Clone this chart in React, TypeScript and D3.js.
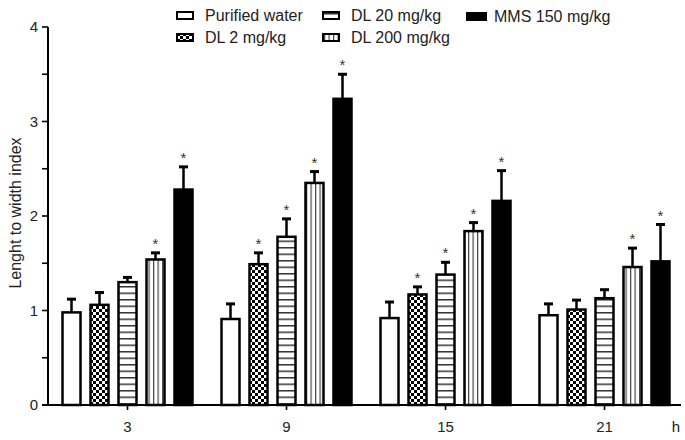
import * as d3 from "d3";

const groups = ["3", "9", "15", "21"];
const series = ["Purified water", "DL 2 mg/kg", "DL 20 mg/kg", "DL 200 mg/kg", "MMS 150 mg/kg"];

const pureWater = [0.98, 0.91, 0.92, 0.95];
const dl2 = [1.06, 1.49, 1.17, 1.01];
const dl20 = [1.3, 1.78, 1.38, 1.13];
const dl200 = [1.54, 2.35, 1.84, 1.46];
const mms = [2.28, 3.24, 2.16, 1.52];

const pureWaterErr = [0.14, 0.16, 0.17, 0.12];
const dl2Err = [0.13, 0.12, 0.08, 0.1];
const dl20Err = [0.05, 0.19, 0.13, 0.09];
const dl200Err = [0.07, 0.12, 0.09, 0.2];
const mmsErr = [0.24, 0.26, 0.32, 0.39];

// significance marks (1 = asterisk)
const pureWaterSig = [0, 0, 0, 0];
const dl2Sig = [0, 1, 1, 0];
const dl20Sig = [0, 1, 1, 0];
const dl200Sig = [1, 1, 1, 1];
const mmsSig = [1, 1, 1, 1];

const yTicks = [0, 1, 2, 3, 4];

const means = [pureWater, dl2, dl20, dl200, mms];
const errs = [pureWaterErr, dl2Err, dl20Err, dl200Err, mmsErr];
const sigs = [pureWaterSig, dl2Sig, dl20Sig, dl200Sig, mmsSig];
const fills = ["#fff", "url(#checker)", "url(#hstripe)", "url(#vstripe)", "#000"];

const W = 685;
const H = 440;
const font = "Liberation Sans, Arial, sans-serif";

export default function App() {
  const y = d3.scaleLinear().domain([0, 4]).range([405, 27]);
  const x0 = d3.scaleBand<string>().domain(groups).range([48, 684]);
  const x1 = d3
    .scaleBand<string>()
    .domain(series)
    .range([-70, 70])
    .paddingInner(10 / 28)
    .paddingOuter(5 / 28);
  const bw = x1.bandwidth();
  const minor = d3.range(0, 4.01, 0.5);

  const legend = [
    { s: 0, x: 177, y: 16 },
    { s: 1, x: 177, y: 38 },
    { s: 2, x: 323, y: 16 },
    { s: 3, x: 323, y: 38 },
    { s: 4, x: 467, y: 17 },
  ];

  return (
    <svg width={W} height={H} style={{ position: "absolute", left: 0, top: 0, background: "#fff" }}>
      <defs>
        <pattern id="checker" width="6" height="6" patternUnits="userSpaceOnUse">
          <rect width="6" height="6" fill="#fff" />
          <rect width="3" height="3" fill="#000" />
          <rect x="3" y="3" width="3" height="3" fill="#000" />
        </pattern>
        <pattern id="hstripe" width="6" height="6.5" patternUnits="userSpaceOnUse">
          <rect width="6" height="6.5" fill="#fff" />
          <rect y="0" width="6" height="1.5" fill="#333" />
        </pattern>
        <pattern id="vstripe" width="4.5" height="6" patternUnits="userSpaceOnUse">
          <rect width="4.5" height="6" fill="#fff" />
          <rect x="0" width="1.2" height="6" fill="#444" />
        </pattern>
      </defs>

      {/* bars */}
      {groups.map((g, gi) =>
        series.map((s, si) => {
          const cx = (x0(g) ?? 0) + x0.bandwidth() / 2 + (x1(s) ?? 0);
          const v = means[si][gi];
          const top = y(v + errs[si][gi]);
          return (
            <g key={g + s}>
              <line x1={cx + bw / 2} x2={cx + bw / 2} y1={y(v)} y2={top} stroke="#000" strokeWidth={2.5} />
              <line x1={cx + bw / 2 - 4.5} x2={cx + bw / 2 + 4.5} y1={top} y2={top} stroke="#000" strokeWidth={3} />
              <rect x={cx} y={y(v)} width={bw} height={y(0) - y(v)} fill={fills[si]} stroke="#000" strokeWidth={2.5} />
              {sigs[si][gi] ? (
                <text x={cx + bw / 2} y={top - 4} textAnchor="middle" fontSize={15} fontFamily={font} fill="#333">
                  *
                </text>
              ) : null}
            </g>
          );
        })
      )}

      {/* y axis */}
      <line x1={48} x2={48} y1={y(4)} y2={y(0)} stroke="#000" strokeWidth={2} />
      {minor.map((t) => (
        <line key={t} x1={42} x2={48} y1={y(t)} y2={y(t)} stroke="#000" strokeWidth={1.6} />
      ))}
      {yTicks.map((t) => (
        <text key={t} x={38} y={y(t) + 5} textAnchor="end" fontSize={15} fontFamily={font} fill="#222">
          {t}
        </text>
      ))}
      <text
        transform={`translate(21,${(y(0) + y(4)) / 2 - 3}) rotate(-90)`}
        textAnchor="middle"
        fontSize={16}
        fontFamily={font}
        fill="#222"
      >
        Lenght to width index
      </text>

      {/* x axis */}
      <line x1={42} x2={681} y1={y(0)} y2={y(0)} stroke="#000" strokeWidth={2} />
      {groups.map((g) => {
        const cx = (x0(g) ?? 0) + x0.bandwidth() / 2;
        return (
          <g key={g}>
            <line x1={cx} x2={cx} y1={y(0)} y2={y(0) + 5} stroke="#000" strokeWidth={1.6} />
            <text x={cx} y={432} textAnchor="middle" fontSize={15} fontFamily={font} fill="#222">
              {g}
            </text>
          </g>
        );
      })}
      <text x={676} y={432} textAnchor="middle" fontSize={15} fontFamily={font} fill="#222">
        h
      </text>

      {/* legend */}
      {legend.map((l) => (
        <g key={l.s}>
          <rect x={l.x} y={l.y - 4} width={series[l.s].startsWith("MMS") ? 19 : 16} height={7} fill={fills[l.s]} stroke="#000" strokeWidth={2} />
          <text x={l.x + (l.s === 4 ? 27 : 28)} y={l.y + 5} fontSize={16} fontFamily={font} fill="#222">
            {series[l.s]}
          </text>
        </g>
      ))}
    </svg>
  );
}
